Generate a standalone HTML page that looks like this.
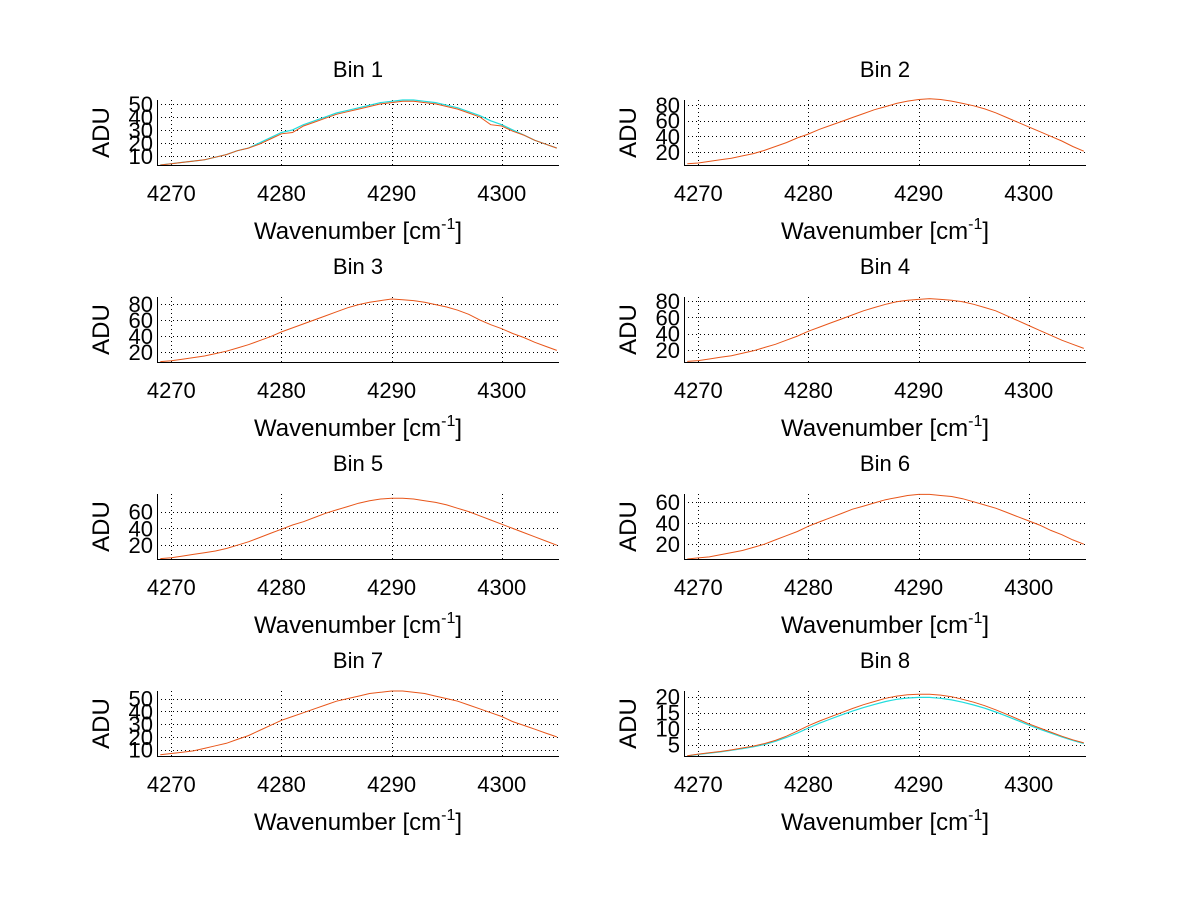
<!DOCTYPE html>
<html><head><meta charset="utf-8">
<style>
html,body{margin:0;padding:0;background:#fff;}
svg{display:block;font-family:"Liberation Sans",sans-serif;}
</style></head>
<body>
<svg id="fig" width="1200" height="901" xmlns="http://www.w3.org/2000/svg"></svg>
<script>
const wavenumbers = [4269,4270,4271,4272,4273,4274,4275,4276,4277,4278,4279,4280,4281,4282,4283,4284,4285,4286,4287,4288,4289,4290,4291,4292,4293,4294,4295,4296,4297,4298,4299,4300,4301,4302,4303,4304,4305];
const xTicks = [4270,4280,4290,4300];
const binTitles = ["Bin 1","Bin 2","Bin 3","Bin 4","Bin 5","Bin 6","Bin 7","Bin 8"];
const bin1 = [3,4,5,6,7,9,11,14,16,19,23,27,28,33,36,39,42,44,46,48,50,51,52,52,51,50,48,46,43,40,34,33,29,26,22,19,16];
const bin1c = [3,4,5,6,7,9,11,14,16,20,24,28,30,34,37,40,43,45,47,49,51,52,53,53,52,51,49,47,44,41,37,34,30,26,22,19,16];
const bin2 = [5,6,8,10,12,15,18,22,27,32,38,43,49,54,59,64,69,74,78,82,85,87,88,87,85,82,79,75,70,64,58,52,46,40,34,27,21];
const bin3 = [8,9,11,13,15,18,21,25,29,34,39,45,50,55,60,65,70,75,79,82,84,86,85,84,82,79,76,72,67,60,54,49,43,38,32,27,22];
const bin4 = [6,7,9,11,13,16,19,23,27,32,37,43,48,53,58,63,68,72,76,79,81,82,83,82,81,79,76,72,68,62,56,50,44,38,32,27,22];
const bin5 = [4,5,7,9,11,13,16,20,24,29,34,39,44,48,53,58,62,66,70,73,75,76,76,75,73,71,68,64,60,55,50,45,40,35,30,25,20];
const bin6 = [6,7,8,10,12,14,17,20,24,28,32,37,41,45,49,53,56,59,62,64,66,67,67,66,65,63,60,57,54,50,46,42,38,33,29,24,20];
const bin7 = [6,7,8,9,11,13,15,18,21,25,29,33,36,39,42,45,48,50,52,54,55,56,56,55,54,52,50,48,45,42,39,36,32,29,26,23,20];
const bin8 = [1.5,2,2.4,2.8,3.3,3.9,4.5,5.3,6.3,7.6,9.2,10.9,12.4,13.7,15,16.3,17.5,18.5,19.5,20.2,20.6,20.8,20.8,20.5,20,19.2,18.3,17.2,15.9,14.5,13,11.5,10.2,8.9,7.6,6.5,5.5];
const bin8c = [1.4,1.9,2.3,2.7,3.2,3.7,4.3,5.0,6.0,7.2,8.6,10.2,11.7,13,14.3,15.5,16.6,17.6,18.5,19.2,19.6,19.8,19.8,19.5,19,18.3,17.4,16.4,15.2,13.9,12.5,11.1,9.8,8.6,7.4,6.3,5.3];
const orangeSeries = [bin1,bin2,bin3,bin4,bin5,bin6,bin7,bin8];
const cyanSeries = [bin1c,null,null,null,null,null,null,bin8c];
const yTicks = [[10,20,30,40,50],[20,40,60,80],[20,40,60,80],[20,40,60,80],[20,40,60],[20,40,60],[10,20,30,40,50],[5,10,15,20]];
const yLims = [[3,53],[3.4,86.4],[7.5,88.5],[5.3,84.9],[3.5,81],[6,67.4],[5,56],[1.4,21.8]];

const NS="http://www.w3.org/2000/svg";
const svg=document.getElementById('fig');
function mk(tag,attrs,parent){const e=document.createElementNS(NS,tag);for(const k in attrs)e.setAttribute(k,attrs[k]);(parent||svg).appendChild(e);return e;}
const XL=4268.7, XR=4305.2;
const colX=[157,684], W=402;
const rowTop=[100,297,494,691], H=65;

for(let i=0;i<8;i++){
  const col=i%2,row=Math.floor(i/2);
  const x0=colX[col], y0=rowTop[row];
  const g=mk('g',{});
  
  
  const [ymin,ymax]=yLims[i];
  const sx=v=>x0+(v-XL)/(XR-XL)*W;
  const sy=v=>y0+H-(v-ymin)/(ymax-ymin)*H;
  xTicks.forEach(t=>{
    const X=Math.round(sx(t))+0.5;
    const l=mk('line',{x1:X,x2:X,y1:y0,y2:y0+H,stroke:'#000','stroke-width':1,'stroke-dasharray':'1,3'},g);
    
    
    const tx=mk('text',{x:sx(t),y:y0+H+36,'font-size':22,'text-anchor':'middle'},g);
    tx.textContent=t;
    
    
  });
  yTicks[i].forEach(t=>{
    const Y=Math.round(sy(t))+0.5;
    const l=mk('line',{x1:x0,x2:x0+W,y1:Y,y2:Y,stroke:'#000','stroke-width':1,'stroke-dasharray':'1,3'},g);
    
    
    const tx=mk('text',{x:x0-4,y:sy(t)+8,'font-size':22,'text-anchor':'end'},g);
    tx.textContent=t;
    
    
  });
  const path=arr=>arr.map((v,j)=>(j?'L':'M')+sx(wavenumbers[j]).toFixed(1)+','+sy(v).toFixed(1)).join('');
  if(cyanSeries[i]){
    const p=mk('path',{d:path(cyanSeries[i]),fill:'none',stroke:'#22dddd','stroke-width':1.2},g);
    
    
  }
  const p=mk('path',{d:path(orangeSeries[i]),fill:'none',stroke:'#e8561a','stroke-width':1},g);
  
  
  const ax=mk('path',{d:`M${x0+0.5},${y0}V${y0+H+0.5}H${x0+W}`,fill:'none',stroke:'#000','stroke-width':1},g);
  
  
  const tt=mk('text',{x:x0+W/2,y:y0-23,'font-size':22,'text-anchor':'middle'},g);
  tt.textContent=binTitles[i];
  
  
  const xl=mk('text',{x:x0+W/2,y:y0+H+74,'font-size':24,'text-anchor':'middle'},g);
  xl.innerHTML='Wavenumber [cm<tspan dy="-10" font-size="16">-1</tspan><tspan dy="10">]</tspan>';
  
  
  const yl=mk('text',{x:0,y:0,'font-size':24,'text-anchor':'middle',transform:`translate(${x0-48},${y0+H/2}) rotate(-90)`},g);
  yl.textContent='ADU';
  
  
}
</script>
</body></html>
